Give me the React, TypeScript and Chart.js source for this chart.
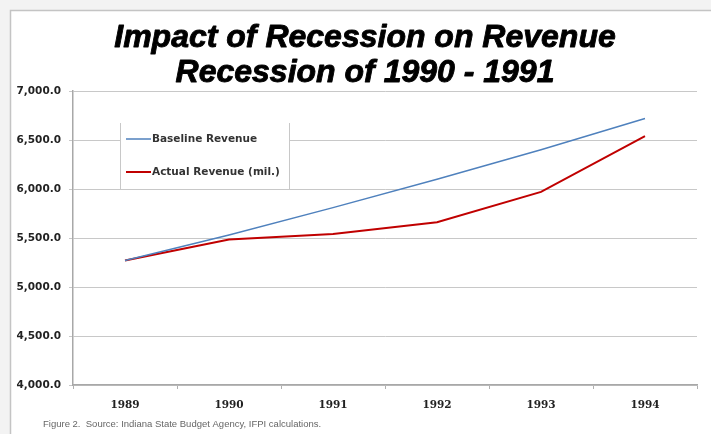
import React, { useEffect, useRef } from "react";
import { Chart, registerables } from "chart.js";

Chart.register(...registerables);

const years = ["1989", "1990", "1991", "1992", "1993", "1994"];
const baselineRevenue = [5270, 5530, 5810, 6100, 6400, 6720];
const actualRevenue = [5270, 5485, 5540, 5660, 5970, 6540];
const titleLines = ["Impact of Recession on Revenue", "Recession of 1990 - 1991"];
const footnote = "Figure 2.  Source: Indiana State Budget Agency, IFPI calculations.";

const framePlugin = {
  id: "frame",
  beforeDraw(chart: any) {
    const { ctx, width, height } = chart;
    ctx.save();
    ctx.fillStyle = "#f3f3f3";
    ctx.fillRect(0, 0, width, height);
    ctx.fillStyle = "#ffffff";
    ctx.fillRect(10, 10, width - 10, height - 10);
    ctx.strokeStyle = "#c4c4c4";
    ctx.lineWidth = 1.5;
    ctx.beginPath();
    ctx.moveTo(10.5, height);
    ctx.lineTo(10.5, 10.5);
    ctx.lineTo(width, 10.5);
    ctx.stroke();
    ctx.restore();
  },
  afterDraw(chart: any) {
    const { ctx } = chart;
    ctx.save();
    ctx.fillStyle = "#000000";
    ctx.strokeStyle = "#000000";
    ctx.lineWidth = 0.9;
    ctx.lineJoin = "round";
    ctx.textAlign = "center";
    ctx.textBaseline = "middle";
    ctx.font = "italic bold 32px 'Liberation Sans', Arial, sans-serif";
    ctx.fillText(titleLines[0], 365, 38);
    ctx.strokeText(titleLines[0], 365, 38);
    ctx.fillText(titleLines[1], 365, 73);
    ctx.strokeText(titleLines[1], 365, 73);
    ctx.textAlign = "left";
    ctx.font = "9.5px 'Liberation Sans', Arial, sans-serif";
    ctx.fillStyle = "#666666";
    ctx.fillText(footnote, 43, 424);
    ctx.restore();
  },
};

const legendPlugin = {
  id: "boxLegend",
  afterDatasetsDraw(chart: any) {
    const { ctx } = chart;
    const x0 = 120, y0 = 123, x1 = 289, y1 = 189;
    ctx.save();
    ctx.fillStyle = "#ffffff";
    ctx.fillRect(x0, y0, x1 - x0, y1 - y0);
    ctx.strokeStyle = "#c8c8c8";
    ctx.lineWidth = 1;
    ctx.beginPath();
    ctx.moveTo(x0 + 0.5, y1);
    ctx.lineTo(x0 + 0.5, y0);
    ctx.moveTo(x1 + 0.5, y0);
    ctx.lineTo(x1 + 0.5, y1);
    ctx.stroke();
    const items = chart.data.datasets.map((d: any) => ({ label: d.label, color: d.borderColor, w: d.borderWidth }));
    const ys = [139, 172];
    ctx.font = "bold 10.5px 'DejaVu Sans', Verdana, sans-serif";
    ctx.textBaseline = "middle";
    ctx.textAlign = "left";
    items.forEach((it: any, i: number) => {
      ctx.strokeStyle = it.color;
      ctx.lineWidth = it.w;
      ctx.beginPath();
      ctx.moveTo(126, ys[i]);
      ctx.lineTo(151, ys[i]);
      ctx.stroke();
      ctx.fillStyle = "#333333";
      ctx.fillText(it.label, 152, ys[i]);
    });
    ctx.restore();
  },
};

export default function App() {
  const ref = useRef<HTMLCanvasElement | null>(null);
  useEffect(() => {
    document.body.style.margin = "0";
    if (!ref.current) return;
    const chart = new Chart(ref.current, {
      type: "line",
      data: {
        labels: years,
        datasets: [
          {
            label: "Baseline Revenue",
            data: baselineRevenue,
            borderColor: "#4f81bd",
            borderWidth: 1.5,
            pointRadius: 0,
            tension: 0,
          },
          {
            label: "Actual Revenue (mil.)",
            data: actualRevenue,
            borderColor: "#c00000",
            borderWidth: 2,
            pointRadius: 0,
            tension: 0,
          },
        ],
      },
      options: {
        animation: false,
        responsive: false,
        maintainAspectRatio: false,
        layout: { padding: { top: 91, right: 14, left: 0, bottom: 0 } },
        plugins: {
          legend: { display: false },
          title: { display: false },
          tooltip: { enabled: false },
        },
        scales: {
          x: {
            offset: true,
            grid: { drawOnChartArea: false, drawTicks: true, tickLength: 4, color: "#b0b0b0", offset: true },
            border: { color: "#a8a8a8", width: 1.5 },
            ticks: {
              color: "#222222",
              padding: 10,
              font: { family: "'DejaVu Serif', 'Liberation Serif', serif", weight: "bold", size: 10.5 },
            },
            afterFit(scale: any) {
              scale.height = 49;
            },
          },
          y: {
            min: 4000,
            max: 7000,
            ticks: {
              stepSize: 500,
              color: "#222222",
              padding: 8,
              font: { family: "'DejaVu Sans', Verdana, sans-serif", weight: "bold", size: 10.5 },
              callback: (v: any) =>
                Number(v).toLocaleString("en-US", { minimumFractionDigits: 1, maximumFractionDigits: 1 }),
            },
            grid: { color: "#c8c8c8", lineWidth: 1, tickLength: 4 },
            border: { color: "#a8a8a8", width: 1.5 },
            afterFit(scale: any) {
              scale.width = 73;
            },
          },
        },
      },
      plugins: [framePlugin, legendPlugin],
    });
    return () => chart.destroy();
  }, []);
  return (
    <div style={{ width: 711, height: 434 }}>
      <canvas ref={ref} width={711} height={434} style={{ display: "block" }} />
    </div>
  );
}
